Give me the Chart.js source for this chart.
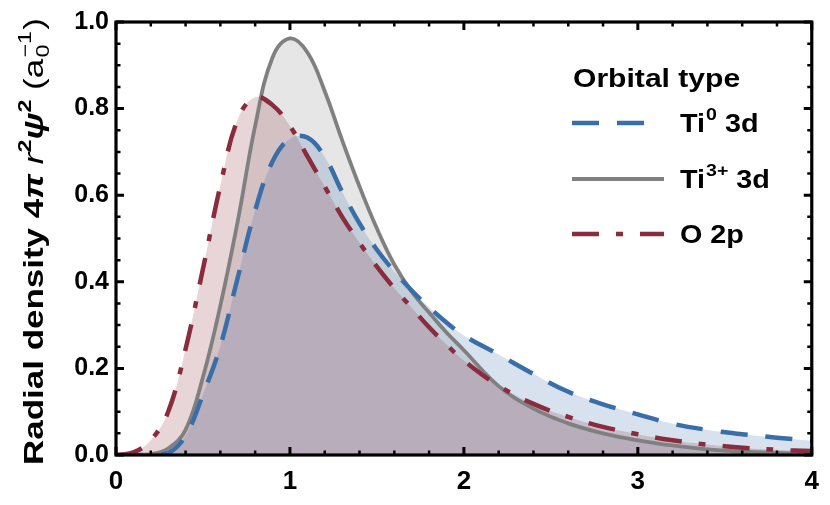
<!DOCTYPE html>
<html>
<head>
<meta charset="utf-8">
<script src="https://cdn.jsdelivr.net/npm/chart.js@4.4.0/dist/chart.umd.min.js"></script>
<style>
html,body{margin:0;padding:0;background:#fff;}
#wrap{width:830px;height:505px;position:relative;}
</style>
</head>
<body>
<div id="wrap"><canvas id="c"></canvas></div>
<script>
// ---- data ----
const radius   = [0, 0.1, 0.2, 0.3, 0.4, 0.5, 0.6, 0.7, 0.8, 0.9, 1.0, 1.1, 1.2, 1.3, 1.4, 1.5, 1.6, 1.7, 1.8, 1.9, 2.0, 2.2, 2.4, 2.6, 2.8, 3.0, 3.2, 3.4, 3.6, 3.8, 4.0];
const ti0_3d   = [0, 0, 0, 0.004, 0.045, 0.14, 0.252, 0.41, 0.565, 0.678, 0.73, 0.733, 0.688, 0.608, 0.535, 0.474, 0.424, 0.38, 0.341, 0.306, 0.276, 0.232, 0.187, 0.146, 0.117, 0.094, 0.072, 0.058, 0.048, 0.04, 0.033];
const ti3_3d   = [0, 0, 0.002, 0.015, 0.058, 0.18, 0.345, 0.54, 0.76, 0.918, 0.962, 0.93, 0.84, 0.727, 0.62, 0.523, 0.44, 0.377, 0.329, 0.283, 0.242, 0.159, 0.107, 0.073, 0.05, 0.034, 0.022, 0.013, 0.008, 0.005, 0.003];
const o_2p     = [0, 0.006, 0.034, 0.1, 0.245, 0.43, 0.622, 0.775, 0.826, 0.808, 0.76, 0.69, 0.62, 0.55, 0.49, 0.435, 0.385, 0.34, 0.295, 0.255, 0.218, 0.16, 0.118, 0.088, 0.065, 0.048, 0.034, 0.024, 0.017, 0.012, 0.009];

const xRange = [0, 4];
const yRange = [0, 1];
const xMajorStep = 1, xMinorStep = 0.2;
const yMajorStep = 0.2, yMinorStep = 0.05;

const legendTitle = 'Orbital type';
const seriesNames = [['Ti', '0', ' 3d'], ['Ti', '3+', ' 3d'], ['O 2p', '', '']];

const BLUE = 'rgb(58,110,168)';
const GRAY = 'rgb(128,128,128)';
const RED  = 'rgb(137,44,62)';

const pts = arr => radius.map((r, i) => ({x: r, y: arr[i]}));

const FONT = '"Liberation Sans", Arial, sans-serif';

// frame + inward ticks (Mathematica style)
const framePlugin = {
  id: 'frame',
  afterDatasetsDraw(chart) {
    const {ctx, chartArea: a, scales: {x, y}} = chart;
    ctx.save();
    ctx.strokeStyle = '#000';
    ctx.lineCap = 'butt';
    const eps = 1e-9;
    for (let v = xRange[0]; v <= xRange[1] + eps; v += xMinorStep) {
      const major = Math.abs(v / xMajorStep - Math.round(v / xMajorStep)) < 1e-6;
      const len = major ? 8 : 4.5;
      ctx.lineWidth = major ? 3 : 2.5;
      const px = x.getPixelForValue(v);
      ctx.beginPath();
      ctx.moveTo(px, a.bottom); ctx.lineTo(px, a.bottom - len);
      ctx.moveTo(px, a.top); ctx.lineTo(px, a.top + len);
      ctx.stroke();
    }
    for (let v = yRange[0]; v <= yRange[1] + eps; v += yMinorStep) {
      const major = Math.abs(v / yMajorStep - Math.round(v / yMajorStep)) < 1e-6;
      const len = major ? 8 : 4.5;
      ctx.lineWidth = major ? 3 : 2.5;
      const py = y.getPixelForValue(v);
      ctx.beginPath();
      ctx.moveTo(a.left, py); ctx.lineTo(a.left + len, py);
      ctx.moveTo(a.right, py); ctx.lineTo(a.right - len, py);
      ctx.stroke();
    }
    ctx.lineWidth = 3.2;
    ctx.strokeRect(a.left, a.top, a.right - a.left, a.bottom - a.top);
    ctx.restore();
  }
};

// legend with superscripts + y-axis title with super/subscripts
const textPlugin = {
  id: 'texts',
  afterDraw(chart) {
    const ctx = chart.ctx;
    ctx.save();
    ctx.fillStyle = '#000';
    ctx.textBaseline = 'alphabetic';
    ctx.textAlign = 'left';

    function seg(str, x, y, font, sx) {
      ctx.font = font;
      const w = ctx.measureText(str).width;
      ctx.save(); ctx.translate(x, y); ctx.scale(sx, 1); ctx.fillText(str, 0, 0); ctx.restore();
      return w * sx;
    }
    const big = 'bold 25px ' + FONT;
    const small = 'bold 17px ' + FONT;

    seg(legendTitle, 573, 87, 'bold 25.5px ' + FONT, 1.18);

    const entries = [
      {color: BLUE, dash: [27, 18], lw: 4.5, ly: 123, ty: 132, x2: 645, name: seriesNames[0]},
      {color: GRAY, dash: [], lw: 3.8, ly: 179, ty: 188, x2: 664, name: seriesNames[1]},
      {color: RED, dash: [27, 17, 7, 17], lw: 4.5, ly: 234, ty: 243, x2: 664, name: seriesNames[2]},
    ];
    entries.forEach(e => {
      ctx.save();
      ctx.strokeStyle = e.color; ctx.lineWidth = e.lw; ctx.setLineDash(e.dash);
      ctx.beginPath(); ctx.moveTo(572, e.ly); ctx.lineTo(e.x2, e.ly); ctx.stroke();
      ctx.restore();
      let cx = 680;
      cx += seg(e.name[0], cx, e.ty, big, 1.15);
      if (e.name[1]) cx += seg(e.name[1], cx + 1, e.ty - 12, small, 1.15) + 1;
      if (e.name[2]) seg(e.name[2], cx, e.ty, big, 1.15);
    });

    // y-axis title (rotated)
    const parts = [
      {t: 'Radial density 4', f: 'bold 27px ' + FONT, dy: 0},
      {t: 'π', f: 'bold italic 27px ' + FONT, dy: 0},
      {t: ' ', f: 'bold 27px ' + FONT, dy: 0},
      {t: 'r', f: 'italic 27px ' + FONT, dy: 0},
      {t: '2', f: 'bold 18px ' + FONT, dy: -12},
      {t: 'ψ', f: 'bold italic 27px ' + FONT, dy: 0},
      {t: '2', f: 'bold 18px ' + FONT, dy: -12},
      {t: ' (a', f: '27px ' + FONT, dy: 0},
      {t: 'STACK', f: '18px ' + FONT},
      {t: ')', f: '27px ' + FONT, dy: 0},
    ];
    let total = 0;
    parts.forEach(p => {
      ctx.font = p.f;
      if (p.t === 'STACK') {
        p.w = Math.max(ctx.measureText('0').width, ctx.measureText('−1').width) + 2;
      } else {
        p.w = ctx.measureText(p.t).width;
      }
      total += p.w;
    });
    const target = 447;
    const s = target / total;
    ctx.save();
    ctx.translate(43, 465);
    ctx.rotate(-Math.PI / 2);
    ctx.scale(s, 1);
    let cx = 0;
    parts.forEach(p => {
      ctx.font = p.f;
      if (p.t === 'STACK') {
        ctx.fillText('0', cx + 1, 6);
        ctx.fillText('−1', cx + 1, -12);
      } else {
        ctx.fillText(p.t, cx, p.dy);
      }
      cx += p.w;
    });
    ctx.restore();
    ctx.restore();
  }
};

const ctxEl = document.getElementById('c');
new Chart(ctxEl, {
  type: 'line',
  data: {
    datasets: [
      {label: 'Ti0 3d', data: pts(ti0_3d), borderColor: BLUE, backgroundColor: 'rgba(58,110,168,0.2)',
       borderWidth: 4.5, borderDash: [27, 18], fill: 'origin', order: 1},
      {label: 'Ti3+ 3d', data: pts(ti3_3d), borderColor: GRAY, backgroundColor: 'rgba(128,128,128,0.2)',
       borderWidth: 3.8, borderDash: [], fill: 'origin', order: 2},
      {label: 'O 2p', data: pts(o_2p), borderColor: RED, backgroundColor: 'rgba(137,44,62,0.2)',
       borderWidth: 4.5, borderDash: [27, 17, 7, 17], fill: 'origin', order: 0},
    ]
  },
  options: {
    responsive: true,
    maintainAspectRatio: false,
    animation: false,
    parsing: false,
    elements: {point: {radius: 0, hoverRadius: 0}, line: {tension: 0.4, borderCapStyle: 'butt', borderJoinStyle: 'round'}},
    layout: {padding: {left: 0, right: 14, top: 22, bottom: 0}},
    plugins: {
      legend: {display: false},
      tooltip: {enabled: false},
      filler: {drawTime: 'beforeDatasetsDraw'}
    },
    scales: {
      x: {
        type: 'linear', min: xRange[0], max: xRange[1],
        grid: {display: false, drawTicks: false},
        border: {display: false},
        ticks: {stepSize: xMajorStep, color: '#000', padding: 11,
                font: {family: FONT, size: 26, weight: 'bold'},
                callback: v => String(v)},
        afterFit: s => { s.height = 50; }
      },
      y: {
        type: 'linear', min: yRange[0], max: yRange[1],
        grid: {display: false, drawTicks: false},
        border: {display: false},
        ticks: {stepSize: yMajorStep, color: '#000', padding: 7,
                font: {family: FONT, size: 25, weight: 'bold'},
                callback: v => v.toFixed(1)},
        afterFit: s => { s.width = 116; }
      }
    }
  },
  plugins: [framePlugin, textPlugin]
});
</script>
</body>
</html>
